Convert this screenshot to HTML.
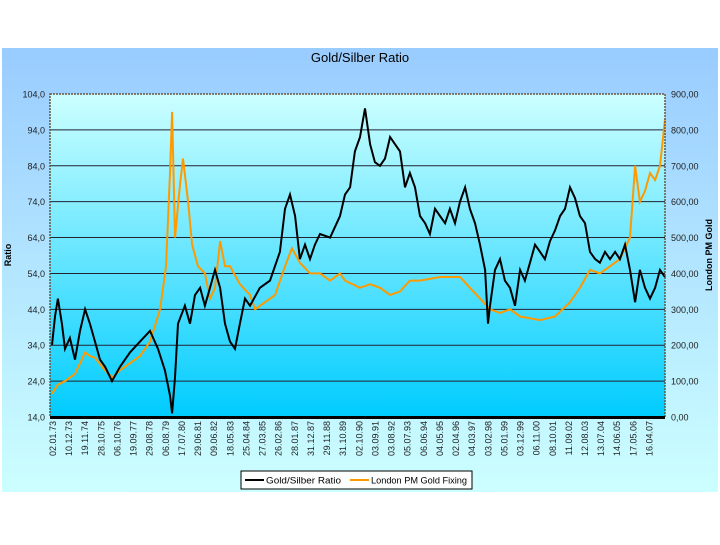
<!DOCTYPE html>
<html><head><meta charset="utf-8"><style>
body{margin:0;background:#fff;width:720px;height:540px;overflow:hidden;font-family:"Liberation Sans",sans-serif}
</style></head><body>
<svg id="c" width="720" height="540" xmlns="http://www.w3.org/2000/svg">
<defs>
<linearGradient id="og" x1="0" y1="0" x2="0" y2="1"><stop offset="0" stop-color="#99ccff"/><stop offset="1" stop-color="#ccffff"/></linearGradient>
<linearGradient id="pg" x1="0" y1="0" x2="0" y2="1"><stop offset="0" stop-color="#ccffff"/><stop offset="1" stop-color="#00ccff"/></linearGradient>
</defs>
<rect x="2" y="48" width="716" height="444" fill="url(#og)"/>
<text x="360" y="62" font-size="13" text-anchor="middle">Gold/Silber Ratio</text>
<rect x="50" y="94" width="615" height="323" fill="url(#pg)"/>
<g id="grid"></g><g id="series"></g><g id="axes"></g>
<rect x="50" y="94" width="615" height="323" fill="none" stroke="#665544" stroke-width="1.5" stroke-dasharray="2,1"/>
<line x1="50" y1="417.5" x2="665" y2="417.5" stroke="#000" stroke-width="3"/>
<text transform="translate(11,255) rotate(-90)" font-size="9" font-weight="bold" text-anchor="middle">Ratio</text>
<text transform="translate(712,255) rotate(-90)" font-size="9" font-weight="bold" text-anchor="middle">London PM Gold</text>
<g>
<rect x="241" y="471" width="231" height="18" fill="#fff" stroke="#000" stroke-width="1"/>
<line x1="245" y1="480" x2="264" y2="480" stroke="#000" stroke-width="2"/>
<text x="266" y="483.5" font-size="9" textLength="75" lengthAdjust="spacingAndGlyphs">Gold/Silber Ratio</text>
<line x1="350" y1="480" x2="369" y2="480" stroke="#ff9900" stroke-width="2"/>
<text x="371" y="483.5" font-size="9" textLength="96" lengthAdjust="spacingAndGlyphs">London PM Gold Fixing</text>
</g>
</svg>
<script>
const leftTicks=["14,0","24,0","34,0","44,0","54,0","64,0","74,0","84,0","94,0","104,0"];
const rightTicks=["0,00","100,00","200,00","300,00","400,00","500,00","600,00","700,00","800,00","900,00"];
const dateLabels=["02.01.73","10.12.73","19.11.74","28.10.75","06.10.76","19.09.77","29.08.78","06.08.79","17.07.80","29.06.81","09.06.82","18.05.83","25.04.84","27.03.85","26.02.86","28.01.87","31.12.87","29.11.88","31.10.89","02.10.90","03.09.91","03.08.92","05.07.93","06.06.94","04.05.95","02.04.96","04.03.97","03.02.98","05.01.99","03.12.99","06.11.00","08.10.01","11.09.02","12.08.03","13.07.04","14.06.05","17.05.06","16.04.07"];
const ratioYears=[0,.17,.34,.57,.75,1.03,1.32,1.61,1.90,2.18,2.47,2.76,3.05,3.45,3.91,4.48,5.06,5.63,6.09,6.49,6.78,6.90,7.07,7.24,7.64,7.93,8.22,8.51,8.79,9.08,9.37,9.66,9.94,10.23,10.52,10.80,11.09,11.38,11.95,12.53,13.10,13.39,13.68,13.97,14.25,14.54,14.83,15.11,15.40,15.98,16.55,16.84,17.13,17.41,17.70,17.99,18.28,18.56,18.85,19.14,19.43,19.71,20.0,20.29,20.57,20.86,21.15,21.44,21.72,22.01,22.30,22.59,22.87,23.16,23.45,23.74,24.02,24.31,24.60,24.89,25.06,25.17,25.46,25.75,26.03,26.32,26.61,26.90,27.18,27.47,27.76,28.05,28.33,28.62,28.91,29.20,29.48,29.77,30.06,30.34,30.63,30.92,31.21,31.49,31.78,32.07,32.36,32.64,32.93,33.22,33.51,33.79,34.08,34.37,34.66,34.94,35.23];
const ratioValues=[34,42,47,40,33,36,30,38,44,40,35,30,28,24,28,32,35,38,33,27,20,15,25,40,45,40,48,50,45,50,55,50,40,35,33,40,47,45,50,52,60,72,76,70,58,62,58,62,65,64,70,76,78,88,92,100,90,85,84,86,92,90,88,78,82,78,70,68,65,72,70,68,72,68,74,78,72,68,62,55,40,45,55,58,52,50,45,55,52,57,62,60,58,63,66,70,72,78,75,70,68,60,58,57,60,58,60,58,62,55,46,55,50,47,50,55,53];
const goldYears=[0,.34,.75,1.32,1.90,2.18,2.47,3.05,3.45,3.91,4.48,5.06,5.63,6.21,6.55,6.78,6.90,7.07,7.36,7.53,7.82,8.05,8.39,8.79,9.08,9.37,9.66,9.94,10.23,10.80,11.38,11.67,12.24,12.82,13.39,13.79,14.25,14.83,15.40,15.98,16.55,16.84,17.70,18.28,18.85,19.43,20.0,20.57,21.15,22.30,23.45,24.02,24.60,25.17,25.75,26.32,26.90,28.05,28.91,29.77,30.34,30.92,31.49,32.07,32.64,33.22,33.51,33.79,34.08,34.37,34.66,34.94,35.23];
const goldValues=[65,90,100,120,180,170,165,130,110,130,150,170,210,300,420,680,850,500,650,720,600,480,420,400,330,360,490,420,420,370,340,300,320,340,420,470,430,400,400,380,400,380,360,370,360,340,350,380,380,390,390,360,330,300,290,300,280,270,280,320,360,410,400,420,440,500,700,600,630,680,660,700,830];
const NS="http://www.w3.org/2000/svg";
const X0=52,XS=17.4,T=94,B=417;
const xs=t=>X0+t*XS;
const yL=v=>B-(v-14)*(B-T)/90;
const yR=v=>B-v*(B-T)/900;
function mk(tag,attrs,parent){const e=document.createElementNS(NS,tag);for(const k in attrs)e.setAttribute(k,attrs[k]);parent.appendChild(e);return e;}
const grid=document.getElementById('grid'),axes=document.getElementById('axes'),ser=document.getElementById('series');
leftTicks.forEach((l,i)=>{const y=yL(14+i*10);
 if(i>0&&i<leftTicks.length-1){const g=mk('line',{x1:50,x2:665,y1:y,y2:y,stroke:'#223',"stroke-width":1},grid);}
 const t=mk('text',{x:45,y:y+3.5,"font-size":9,"text-anchor":"end",fill:'#222'},axes);t.textContent=l;});
rightTicks.forEach((l,i)=>{const y=yR(i*100);
 const t=mk('text',{x:671,y:y+3.5,"font-size":9,fill:'#222'},axes);t.textContent=l;});
dateLabels.forEach((l,i)=>{const x=xs(i*0.9265)+4;
 const t=mk('text',{transform:`translate(${x},421) rotate(-90)`,"font-size":9,"text-anchor":"end",fill:'#222'},axes);t.textContent=l;});
const gp=mk('polyline',{points:goldYears.map((t,i)=>xs(t).toFixed(1)+','+yR(goldValues[i]).toFixed(1)).join(' '),fill:'none',stroke:'#ff9900',"stroke-width":2},ser);


const rp=mk('polyline',{points:ratioYears.map((t,i)=>xs(t).toFixed(1)+','+yL(ratioValues[i]).toFixed(1)).join(' '),fill:'none',stroke:'#000',"stroke-width":2},ser);


</script>
</body></html>
